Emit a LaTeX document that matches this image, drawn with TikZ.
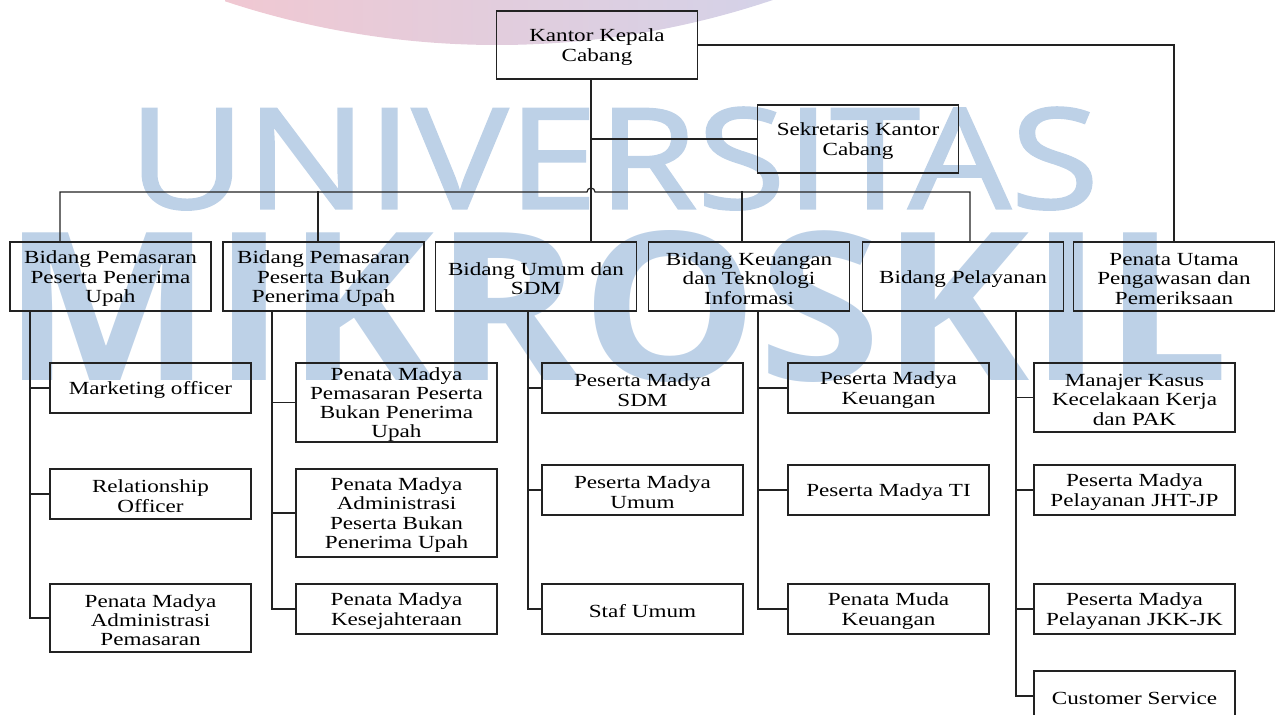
\documentclass[tikz,border=0pt]{standalone}
\usepackage{fontspec}
\usepackage{graphicx}
\setmainfont{Liberation Serif}[FakeStretch=1.25]
\newfontfamily\wmfont{Open Sans}[FakeBold=1.6]
\newfontfamily\wmfontb{Open Sans}
\definecolor{wmblue}{HTML}{BDD1E7}
\definecolor{arcpink}{HTML}{F0C8D2}
\definecolor{arclav}{HTML}{D4D2E8}
\definecolor{ink}{HTML}{222222}
\newcommand\tstrut{\rule{0pt}{17pt}}
\tikzset{
  box/.style={draw=ink, line width=1.2pt, inner sep=0pt, align=center,
    minimum width=201pt, font=\fontsize{18.5}{19.3}\selectfont},
  conn/.style={draw=ink, line width=1.2pt}
}
\begin{document}
\begin{tikzpicture}[x=1pt,y=-1pt]
\useasboundingbox (0,0) rectangle (1275,715);
% watermark
\begin{scope}
  \clip (497,-818) circle[radius=863];
  \shade[left color=arcpink, right color=arclav] (225,-5) rectangle (775,50);
\end{scope}
\node[anchor=south west, inner sep=0pt, text=wmblue] (wm1) at (128,210) {\resizebox{970pt}{101pt}{\wmfont UNIVERSITAS}};
\node[anchor=south west, inner sep=0pt, text=wmblue] (wm2) at (2,383) {\resizebox{1226pt}{150pt}{\wmfontb\bfseries MIKROSKIL}};

% top
\node[box, minimum height=68pt] (k) at (597,45) {\tstrut Kantor Kepala\\Cabang};
\node[box, minimum height=68pt] (s) at (858,139) {\tstrut Sekretaris Kantor\\Cabang};

% row 2
\node[box, minimum height=69pt] (b1) at (110.5,276.5) {\tstrut Bidang Pemasaran\\Peserta Penerima\\Upah};
\node[box, minimum height=69pt] (b2) at (323.5,276.5) {\tstrut Bidang Pemasaran\\Peserta Bukan\\Penerima Upah};
\node[box, minimum height=69pt] (b3) at (536,276.5) {\tstrut Bidang Umum dan\\SDM};
\node[box, minimum height=69pt] (b4) at (749,276.5) {\tstrut Bidang Keuangan\\dan Teknologi\\Informasi};
\node[box, minimum height=69pt] (b5) at (963,276.5) {\tstrut Bidang Pelayanan};
\node[box, minimum height=69pt] (b6) at (1174,276.5) {\tstrut Penata Utama\\Pengawasan dan\\Pemeriksaan};

% column 1
\node[box, minimum height=50pt] (c11) at (150.5,388) {\tstrut Marketing officer};
\node[box, minimum height=50pt] (c12) at (150.5,494) {\tstrut Relationship\\Officer};
\node[box, minimum height=68pt] (c13) at (150.5,618) {\tstrut Penata Madya\\Administrasi\\Pemasaran};
% column 2
\node[box, minimum height=79pt] (c21) at (396.5,402.5) {\tstrut Penata Madya\\Pemasaran Peserta\\Bukan Penerima\\Upah};
\node[box, minimum height=88pt] (c22) at (396.5,513) {\tstrut Penata Madya\\Administrasi\\Peserta Bukan\\Penerima Upah};
\node[box, minimum height=50pt] (c23) at (396.5,609) {\tstrut Penata Madya\\Kesejahteraan};
% column 3
\node[box, minimum height=50pt] (c31) at (642.5,388) {\tstrut Peserta Madya\\SDM};
\node[box, minimum height=50pt] (c32) at (642.5,490) {\tstrut Peserta Madya\\Umum};
\node[box, minimum height=50pt] (c33) at (642.5,609) {\tstrut Staf Umum};
% column 4
\node[box, minimum height=50pt] (c41) at (888.5,388) {\tstrut Peserta Madya\\Keuangan};
\node[box, minimum height=50pt] (c42) at (888.5,490) {\tstrut Peserta Madya TI};
\node[box, minimum height=50pt] (c43) at (888.5,609) {\tstrut Penata Muda\\Keuangan};
% column 5
\node[box, minimum height=69pt] (c51) at (1134.5,397.5) {\tstrut Manajer Kasus\\Kecelakaan Kerja\\dan PAK};
\node[box, minimum height=50pt] (c52) at (1134.5,490) {\tstrut Peserta Madya\\Pelayanan JHT-JP};
\node[box, minimum height=50pt] (c53) at (1134.5,609) {\tstrut Peserta Madya\\Pelayanan JKK-JK};
\node[box, minimum height=50pt] (c54) at (1134.5,696) {\tstrut Customer Service};

% top connectors
\draw[conn] ([xshift=-6pt]k.south) -- ([xshift=55pt]b3.north);
\draw[conn] ([xshift=-6pt]k.south |- s.west) -- (s.west);
\draw[conn] (k.east) -| (b6.north);
% bus with hop over trunk
\draw[conn] ([xshift=-50.5pt]b1.north) |- (587,192) arc[start angle=180, end angle=360, radius=4] -| ([xshift=7pt]b5.north);
\draw[conn] ([xshift=-5.5pt]b2.north) -- ++(0,-50);
\draw[conn] ([xshift=-7pt]b4.north) -- ++(0,-50);

% column spines
\foreach \c in {c11,c12,c13} \draw[conn] ([xshift=-80.5pt]b1.south) |- (\c.west);
\foreach \c in {c21,c22,c23} \draw[conn] ([xshift=-51.5pt]b2.south) |- (\c.west);
\foreach \c in {c31,c32,c33} \draw[conn] ([xshift=-8pt]b3.south) |- (\c.west);
\foreach \c in {c41,c42,c43} \draw[conn] ([xshift=9pt]b4.south) |- (\c.west);
\foreach \c in {c51,c52,c53,c54} \draw[conn] ([xshift=53pt]b5.south) |- (\c.west);
\end{tikzpicture}
\end{document}
